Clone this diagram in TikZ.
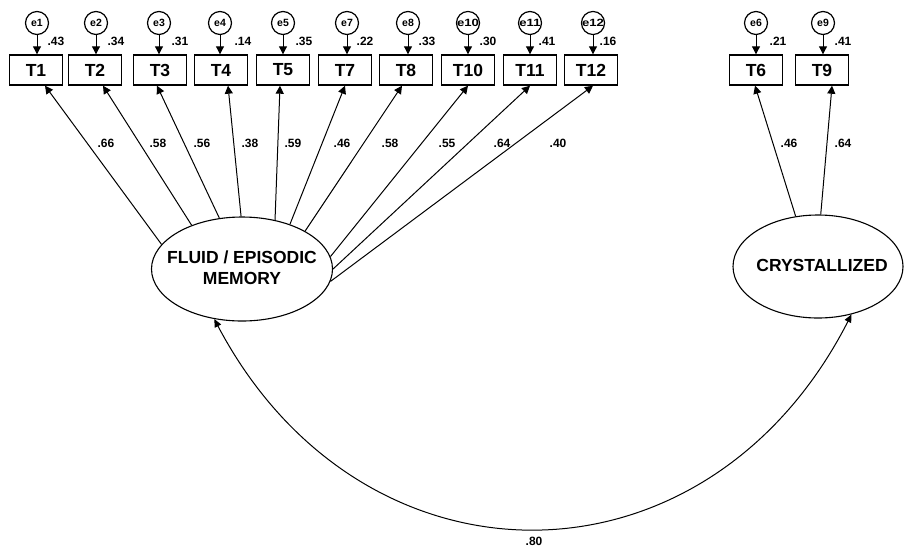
\documentclass[tikz,border=0pt]{standalone}
\usepackage{fontspec}
\usepackage{graphicx}
\setmainfont{Liberation Sans}
\usetikzlibrary{shapes.geometric,arrows.meta}
\begin{document}
\begin{tikzpicture}[x=1pt,y=-1pt,
 obs/.style={draw,line width=1.4pt,minimum width=53pt,minimum height=30pt,inner sep=0pt,font=\fontsize{17.5}{17.5}\selectfont\bfseries},
 err/.style={draw,circle,line width=1.2pt,minimum size=23pt,inner sep=0pt,font=\fontsize{10.5}{10.5}\selectfont\bfseries},
 lat/.style={draw,ellipse,line width=1.1pt,inner sep=0pt},
 lattext/.style={inner sep=0pt,align=center,font=\fontsize{17.5}{21}\selectfont\bfseries},
 val/.style={inner sep=0pt,font=\fontsize{12}{12}\selectfont\bfseries},
 arr/.style={-{Triangle[length=8pt,width=8pt]},line width=1pt},
 cov/.style={{Triangle[length=8pt,width=7pt]}-{Triangle[length=8pt,width=7pt]},line width=1pt}
]
\useasboundingbox (0,0) rectangle (904,547);

% latent variables
\node[lat,minimum width=181pt,minimum height=104pt] (F) at (242,269) {};
\node[lattext] (Ft) at (242,268) {FLUID / EPISODIC\\MEMORY};
\node[lat,minimum width=170pt,minimum height=103pt] (C) at (818,266.5) {};
\node[lattext] (Ct) at (822,265) {CRYSTALLIZED};

% observed variables, errors, variance labels
\foreach \n/\x/\ex/\v/\vx/\et in {1/36/37/.43/56/{e1}, 2/95/96/.34/116/{e2}, 3/160/159/.31/180/{e3}, 4/221/220/.14/243/{e4}, 5/283/283/.35/304/{e5}, 7/345/347/.22/365/{e7}, 8/406/408/.33/427/{e8}, 10/468/468/.30/488/{\scalebox{1.25}[1]{e10}}, 11/530/530/.41/547/{\scalebox{1.25}[1]{e11}}, 12/591/593/.16/608/{\scalebox{1.25}[1]{e12}}, 6/756/756/.21/778/{e6}, 9/822/823/.41/843/{e9}}{
  \node[obs] (T\n) at (\x,70) {T\n};
  \node[err] (e\n) at (\ex,23) {\et};
  \node[val] (v\n) at (\vx,41) {\v};
  \draw[arr] (e\n.south) -- (e\n.south |- T\n.north);
}

% loadings
\foreach \n/\a/\s/\l/\lx in {1/163.7/9/.66/106, 2/139.3/8/.58/158, 3/114.7/-3/.56/202, 4/91.1/7/.38/250, 5/56.6/-3/.59/293, 7/43.8/0/.46/342, 8/31.0/-4/.58/390, 10/8.8/0/.55/447, 11/-0.6/0/.64/502, 12/-8.1/2/.40/558}{
  \draw[arr] (F.\a) -- ([xshift=\s pt]T\n.south);
  \node[val] (l\n) at (\lx,143) {\l};
}
\draw[arr] (C.114.9) -- ([xshift=-1pt]T6.south);
\draw[arr] (C.87.8) -- ([xshift=10pt]T9.south);
\node[val] (l6) at (789,143) {.46};
\node[val] (l9) at (843,143) {.64};

% covariance
\draw[cov] (F.-119.6) .. controls (362,599) and (706,599) .. (C.-55.3);
\node[val] (r) at (534,541) {.80};
\end{tikzpicture}
\end{document}
